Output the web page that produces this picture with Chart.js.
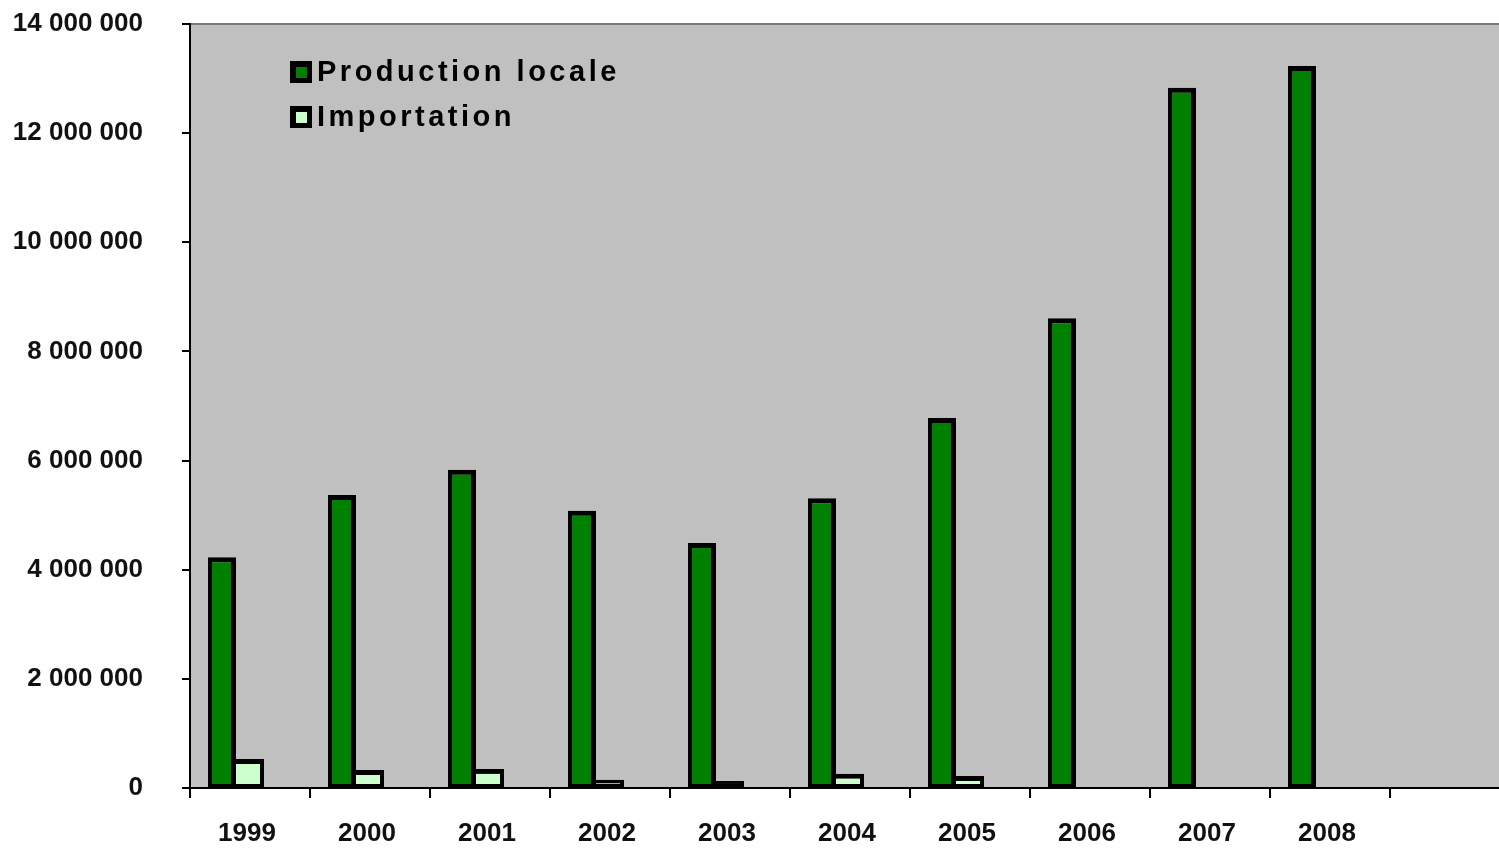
<!DOCTYPE html>
<html>
<head>
<meta charset="utf-8">
<script src="https://cdn.jsdelivr.net/npm/chart.js@4/dist/chart.umd.min.js"></script>
<style>
    html, body { margin: 0; padding: 0; background: #fff; overflow: hidden; }
    #wrap { position: relative; width: 1520px; height: 848px; }
</style>
</head>
<body>
<div id="wrap"><canvas id="chart"></canvas></div>
<script>
// ================== DATA ==================
const years = ['1999', '2000', '2001', '2002', '2003', '2004', '2005', '2006', '2007', '2008', ''];
const productionLocale = [4230000, 5370000, 5830000, 5080000, 4490000, 5310000, 6780000, 8610000, 12830000, 13230000, null];
const importation = [530000, 330000, 350000, 150000, 130000, 260000, 220000, null, null, null, null];
const Y_MAX = 14000000;
const Y_STEP = 2000000;

const GREEN = '#008000';
const LIGHT = '#ccffcc';
const PLOT_BG = '#c0c0c0';

const tickFont = { family: '"Liberation Sans", Arial, sans-serif', size: 26, weight: 'bold' };

function formatNumber(v) {
    return String(v).replace(/\B(?=(\d{3})+(?!\d))/g, ' ');
}

// plot background + top border
const plotBackground = {
    id: 'plotBackground',
    beforeDraw(chart) {
        const { ctx, chartArea: a } = chart;
        ctx.save();
        ctx.fillStyle = PLOT_BG;
        ctx.fillRect(a.left, a.top, a.right - a.left, a.bottom - a.top);
        ctx.strokeStyle = '#7a7a7a';
        ctx.lineWidth = 2;
        ctx.beginPath();
        ctx.moveTo(a.left, a.top);
        ctx.lineTo(a.right, a.top);
        ctx.stroke();
        ctx.restore();
    }
};

// legend drawn inside the plot, top-left
const innerLegend = {
    id: 'innerLegend',
    afterDraw(chart) {
        const { ctx } = chart;
        const rows = [chart.data.datasets[0], chart.data.datasets[1]];
        ctx.save();
        ctx.font = 'bold 29px "Liberation Sans", Arial, sans-serif';
        ctx.letterSpacing = '3.5px';
        ctx.textBaseline = 'middle';
        rows.forEach((ds, i) => {
            const y = 72 + i * 45;
            ctx.fillStyle = '#000';
            ctx.fillRect(290, y - 11, 22, 22);
            ctx.fillStyle = ds.backgroundColor;
            ctx.fillRect(296, y - 5, 11, 11);
            ctx.fillStyle = '#000';
            ctx.fillText(ds.label, 317, y + 1);
        });
        ctx.restore();
    }
};

// ================== CHART ==================
const ctx = document.getElementById('chart').getContext('2d');
const chart = new Chart(ctx, {
    type: 'bar',
    data: {
        labels: years,
        datasets: [
            { label: 'Production locale', data: productionLocale, backgroundColor: GREEN, borderColor: '#000',
              borderWidth: { left: 4, top: 5, right: 5, bottom: 3 }, borderSkipped: false },
            { label: 'Importation', data: importation, backgroundColor: LIGHT, borderColor: '#000',
              borderWidth: { left: 0, top: 5, right: 4, bottom: 3 }, borderSkipped: false },
            // empty slot so the pair sits left of the category centre
            { label: '', data: years.map(() => null), backgroundColor: 'rgba(0,0,0,0)' }
        ]
    },
    options: {
        responsive: true,
        maintainAspectRatio: false,
        animation: false,
        datasets: { bar: { barPercentage: 1, categoryPercentage: 0.7 } },
        layout: { padding: { top: 24, right: 10, bottom: 0, left: 0 } },
        plugins: { legend: { display: false }, tooltip: { enabled: false } },
        scales: {
            x: {
                grid: { drawOnChartArea: false, offset: true, tickLength: 10, color: '#000', lineWidth: 2 },
                border: { display: true, color: '#000', width: 2 },
                ticks: { font: tickFont, color: '#111', padding: 20, labelOffset: -3, maxRotation: 0, autoSkip: false },
                afterFit: s => { s.height = 60; s.paddingLeft = 0; s.paddingRight = 0; }
            },
            y: {
                min: 0, max: Y_MAX,
                grid: { drawOnChartArea: false, tickLength: 8, color: '#000', lineWidth: 2 },
                border: { display: true, color: '#000', width: 2 },
                ticks: { stepSize: Y_STEP, font: tickFont, color: '#111', padding: 39, callback: v => formatNumber(v) },
                afterFit: s => { s.width = 190; s.paddingTop = 0; s.paddingBottom = 0; }
            }
        }
    },
    plugins: [plotBackground, innerLegend]
});
</script>
</body>
</html>
